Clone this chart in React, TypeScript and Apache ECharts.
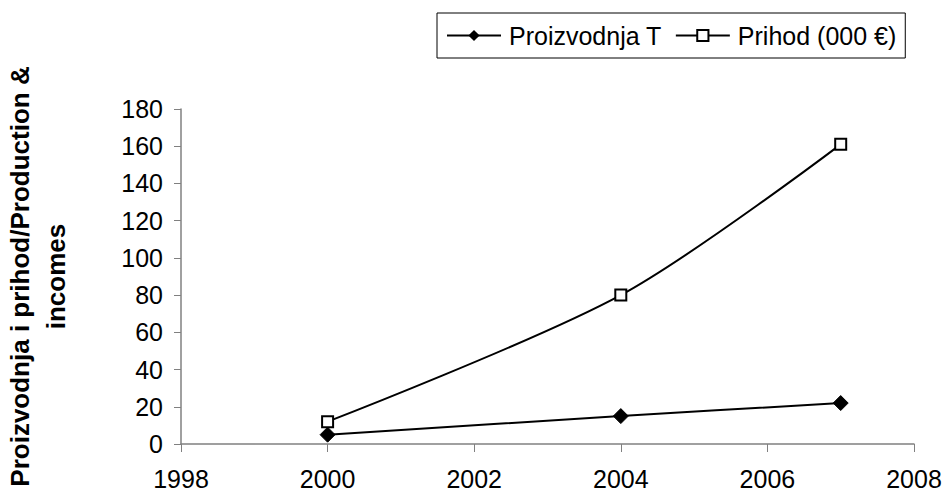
import React, { useEffect, useRef } from "react";
import * as echarts from "echarts";

const years = [2000, 2004, 2007];
const proizvodnja = [5, 15, 22];
const prihod = [12, 80, 161];
const seriesNames = ["Proizvodnja T", "Prihod (000 €)"];
const yAxisTitle = "Proizvodnja i prihod/Production &\nincomes";

export default function App() {
  const ref = useRef<HTMLDivElement>(null);
  useEffect(() => {
    if (!ref.current) return;
    const chart = echarts.init(ref.current, null, { renderer: "svg" });
    const font = "Arial, 'Liberation Sans', sans-serif";
    const axisGray = "#808080";
    chart.setOption({
      animation: false,
      backgroundColor: "#ffffff",
      textStyle: { fontFamily: font },
      legend: {
        left: 437,
        top: 13,
        padding: [10, 9, 10, 9],
        itemGap: 13,
        itemWidth: 54,
        itemHeight: 14,
        borderColor: "#000000",
        borderWidth: 1,
        textStyle: { fontSize: 25, color: "#000", fontFamily: font, padding: [0, 0, 0, 3] },
        data: seriesNames,
      },
      grid: {
        left: 181,
        right: 31,
        top: 109,
        bottom: 51,
        containLabel: false,
        outerBoundsMode: "none",
      },
      xAxis: {
        type: "value",
        min: 1998,
        max: 2008,
        interval: 2,
        axisLine: { lineStyle: { color: axisGray, width: 1.5 } },
        axisTick: { show: true, length: 8, inside: false, lineStyle: { color: axisGray } },
        splitLine: { show: false },
        axisLabel: {
          fontSize: 25,
          color: "#000",
          margin: 22,
          fontFamily: font,
          formatter: (v: number) => String(v),
        },
      },
      yAxis: {
        type: "value",
        min: 0,
        max: 180,
        interval: 20,
        name: yAxisTitle,
        nameLocation: "middle",
        nameRotate: 90,
        nameGap: 107,
        nameTextStyle: { fontSize: 26, fontWeight: "bold", color: "#000", lineHeight: 36, fontFamily: font },
        axisLine: { show: true, lineStyle: { color: axisGray, width: 1.5 } },
        axisTick: { show: true, length: 7, lineStyle: { color: axisGray } },
        splitLine: { show: false },
        axisLabel: { fontSize: 25, color: "#000", margin: 18, fontFamily: font },
      },
      series: [
        {
          name: seriesNames[0],
          type: "line",
          smooth: 0.3,
          data: years.map((y, i) => [y, proizvodnja[i]]),
          symbol: "diamond",
          symbolSize: 15,
          lineStyle: { color: "#000", width: 2 },
          itemStyle: { color: "#000", borderColor: "#000" },
        },
        {
          name: seriesNames[1],
          type: "line",
          smooth: 0.3,
          data: years.map((y, i) => [y, prihod[i]]),
          symbol: "rect",
          symbolSize: 11,
          lineStyle: { color: "#000", width: 2 },
          itemStyle: { color: "#fff", borderColor: "#000", borderWidth: 2 },
        },
      ],
    });
    return () => chart.dispose();
  }, []);
  return (
    <div
      ref={ref}
      style={{ position: "fixed", left: 0, top: 0, width: 945, height: 495, background: "#fff" }}
    />
  );
}
